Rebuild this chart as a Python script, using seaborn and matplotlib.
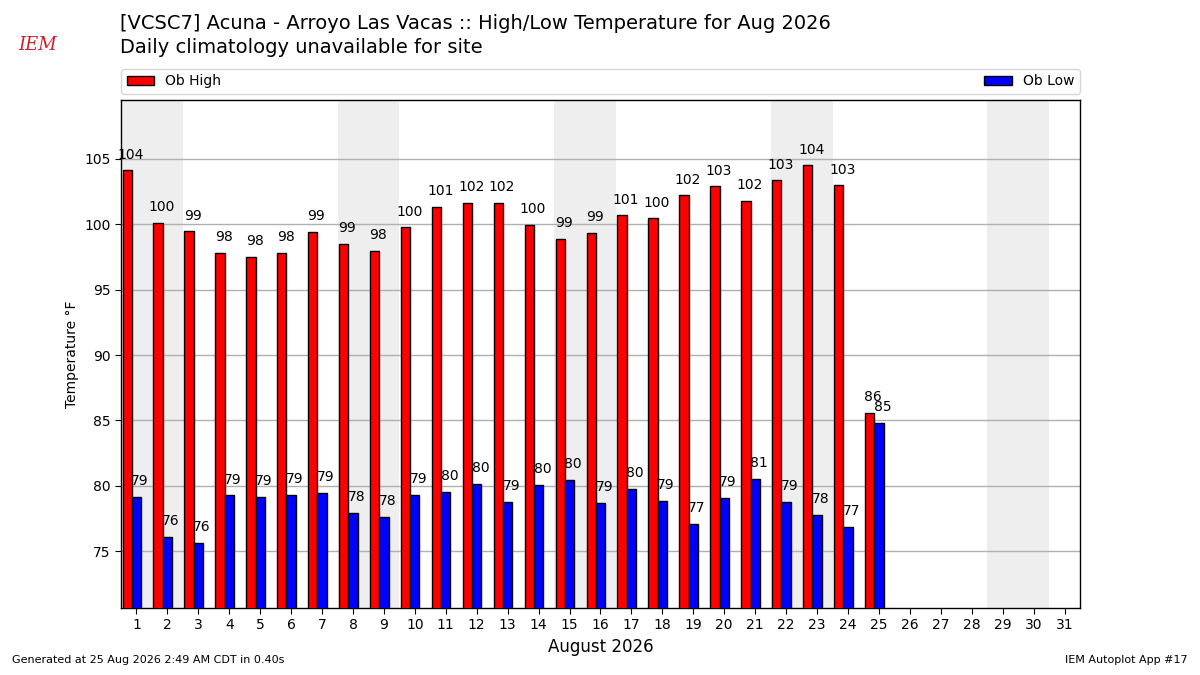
import numpy as np
import matplotlib
matplotlib.use("Agg")
import matplotlib.pyplot as plt
import seaborn as sns
from matplotlib.patches import Patch

# daily observed high / low temperatures (F), Aug 2026
days = list(range(1, 32))
obs_days = list(range(1, 26))
ob_high = [104.13, 100.13, 99.46, 97.82, 97.52, 97.82, 99.44, 98.52, 97.98, 99.75,
           101.35, 101.66, 101.66, 99.95, 98.90, 99.36, 100.67, 100.44, 102.22, 102.91,
           101.80, 103.36, 104.50, 102.98, 85.58]
ob_low = [79.18, 76.09, 75.66, 79.26, 79.18, 79.33, 79.46, 77.93, 77.63, 79.31,
          79.54, 80.15, 78.77, 80.08, 80.46, 78.70, 79.77, 78.85, 77.11, 79.08,
          80.54, 78.77, 77.78, 76.88, 84.82]
weekend_starts = [1, 8, 15, 22, 29]

sns.set_style("white")
plt.rcParams['font.family'] = ['DejaVu Sans']
plt.rcParams.update({"text.color": "black", "axes.labelcolor": "black",
                     "xtick.color": "black", "ytick.color": "black"})

fig = plt.figure(figsize=(12, 6.75), dpi=100)
ax = fig.add_axes([0.1008, 0.0993, 0.7992, 0.7526])

# weekend shading
for d in weekend_starts:
    ax.axvspan(d - 0.5, d + 1.5, color="#EEEEEE", zorder=0, lw=0)

x = np.array(obs_days, dtype=float)
sns.barplot(x=x - 0.3, y=ob_high, native_scale=True, width=0.3, color="red",
            saturation=1, edgecolor="k", linewidth=1, errorbar=None, ax=ax, zorder=3)
sns.barplot(x=x, y=ob_low, native_scale=True, width=0.3, color="blue",
            saturation=1, edgecolor="k", linewidth=1, errorbar=None, ax=ax, zorder=3)

for d, v in zip(obs_days, ob_high):
    ax.text(d - 0.3 + 0.12, v + 0.65, f"{v:.0f}", ha="center", va="bottom", fontsize=10, zorder=4)
for d, v in zip(obs_days, ob_low):
    ax.text(d + 0.12, v + 0.65, f"{v:.0f}", ha="center", va="bottom", fontsize=10, zorder=4)

lo = min(ob_low) - 5
hi = max(ob_high) + 5
ax.set_ylim(lo, hi)
ax.set_xlim(0.5, 31.5)
ax.set_xticks(days)
ax.set_xticklabels([str(d) for d in days], fontsize=10)
ax.set_yticks([75, 80, 85, 90, 95, 100, 105])
ax.tick_params(axis="both", labelsize=10, length=4, color="k", direction="out",
               bottom=True, left=True)
ax.yaxis.grid(True, color="#b0b0b0", lw=1, zorder=1)
ax.set_axisbelow(True)
for s in ax.spines.values():
    s.set_color("k")
    s.set_linewidth(1)
ax.set_xlabel("August 2026", fontsize=12)
ax.set_ylabel("Temperature \u00b0F", fontsize=10)

handles = [Patch(facecolor="red", edgecolor="k", label="Ob High"),
           Patch(facecolor="blue", edgecolor="k", label="Ob Low")]
ax.legend(handles=handles, loc="lower left", bbox_to_anchor=(0, 1.012, 1, 0.05),
          mode="expand", ncol=2, borderaxespad=0, fontsize=10, frameon=True)

fig.text(0.1, 0.965, "[VCSC7] Acuna - Arroyo Las Vacas :: High/Low Temperature for Aug 2026",
         fontsize=14, va="center", ha="left")
fig.text(0.1, 0.929, "Daily climatology unavailable for site", fontsize=14, va="center", ha="left")

# logo stand-in
fig.text(0.031, 0.934, "IEM", color="#d0202a", fontsize=13, family="serif", style="italic",
         ha="center", va="center")

fig.text(0.01, 0.015, "Generated at 25 Aug 2026 2:49 AM CDT in 0.40s", fontsize=8, va="bottom")
fig.text(0.99, 0.015, "IEM Autoplot App #17", fontsize=8, ha="right", va="bottom")

fig.savefig("out.png", dpi=100)
